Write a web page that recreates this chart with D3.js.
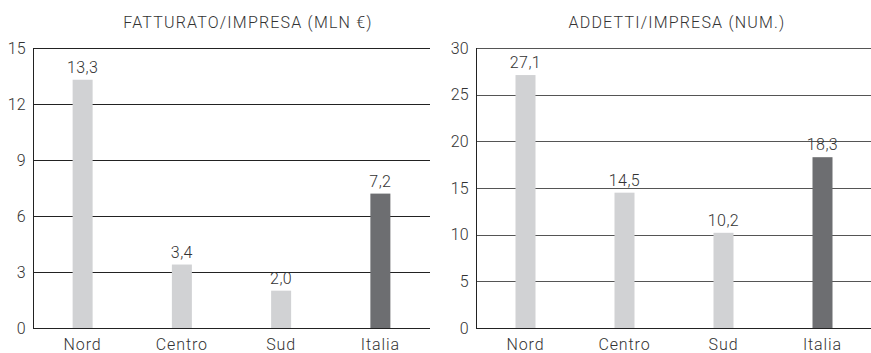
<!DOCTYPE html>
<html>
<head>
<meta charset="utf-8">
<script src="https://cdn.jsdelivr.net/npm/d3@7"></script>
<style>
  body { margin: 0; background: #fff; }
  svg { display: block; font-family: Roboto, "DejaVu Sans", sans-serif; }
</style>
</head>
<body>
<svg id="chart" width="871" height="353"></svg>
<script>
// data
const categories = ["Nord", "Centro", "Sud", "Italia"];
const fatturato = [13.3, 3.4, 2.0, 7.2];
const addetti = [27.1, 14.5, 10.2, 18.3];
const fatturatoTicks = [0, 3, 6, 9, 12, 15];
const addettiTicks = [0, 5, 10, 15, 20, 25, 30];
const titles = ["FATTURATO/IMPRESA (MLN €)", "ADDETTI/IMPRESA (NUM.)"];

const svg = d3.select("#chart");
const fmt = (v) => d3.format(".1f")(v).replace(".", ",");

function panel({ values, ticks, title, x0, x1, titleX, gridColor }) {
  const top = 48, bottom = 328;
  const x = d3.scaleBand().domain(categories).range([x0, x1]).padding(0);
  const y = d3.scaleLinear().domain([0, d3.max(ticks)]).range([bottom, top]);
  const g = svg.append("g");

  // grid lines
  g.append("g")
    .selectAll("line")
    .data(ticks)
    .join("line")
    .attr("x1", x0)
    .attr("x2", x1)
    .attr("y1", (d) => Math.round(y(d)) + 0.5)
    .attr("y2", (d) => Math.round(y(d)) + 0.5)
    .attr("stroke", (d) => (d === 0 ? "#222" : gridColor))
    .attr("stroke-width", 1);

  // left axis line
  g.append("line")
    .attr("x1", x0 + 0.5)
    .attr("x2", x0 + 0.5)
    .attr("y1", Math.round(y(d3.max(ticks))))
    .attr("y2", Math.round(y(0)) + 1)
    .attr("stroke", "#222");

  // tick labels
  g.append("g")
    .selectAll("text")
    .data(ticks)
    .join("text")
    .attr("x", x0 - 7)
    .attr("y", (d) => y(d) + 5.5)
    .attr("text-anchor", "end")
    .attr("font-size", 16)
    .attr("font-weight", 300)
    .attr("letter-spacing", 0.3)
    .attr("fill", "#333")
    .text((d) => d);

  // bars
  const bw = 20;
  g.append("g")
    .selectAll("rect")
    .data(values)
    .join("rect")
    .attr("x", (d, i) => x(categories[i]) + x.bandwidth() / 2 - bw / 2)
    .attr("y", (d) => y(d))
    .attr("width", bw)
    .attr("height", (d) => y(0) - y(d))
    .attr("fill", (d, i) => (categories[i] === "Italia" ? "#6d6e71" : "#d1d2d4"));

  // value labels
  g.append("g")
    .selectAll("text")
    .data(values)
    .join("text")
    .attr("x", (d, i) => x(categories[i]) + x.bandwidth() / 2)
    .attr("y", (d) => y(d) - 7)
    .attr("text-anchor", "middle")
    .attr("font-size", 16)
    .attr("font-weight", 300)
    .attr("letter-spacing", 0.4)
    .attr("fill", "#333")
    .text(fmt);

  // category labels
  g.append("g")
    .selectAll("text")
    .data(categories)
    .join("text")
    .attr("x", (d) => x(d) + x.bandwidth() / 2)
    .attr("y", 350)
    .attr("text-anchor", "middle")
    .attr("font-size", 16)
    .attr("font-weight", 300)
    .attr("letter-spacing", 0.9)
    .attr("fill", "#333")
    .text((d) => d);

  // title
  g.append("text")
    .attr("x", titleX)
    .attr("y", 28)
    .attr("text-anchor", "middle")
    .attr("font-size", 16)
    .attr("font-weight", 300)
    .attr("letter-spacing", 1.2)
    .attr("fill", "#333")
    .text(title);
}

panel({ values: fatturato, ticks: fatturatoTicks, title: titles[0], x0: 33, x1: 430, titleX: 248, gridColor: "#222" });
panel({ values: addetti, ticks: addettiTicks, title: titles[1], x0: 476, x1: 872, titleX: 677, gridColor: "#555" });
</script>
</body>
</html>
